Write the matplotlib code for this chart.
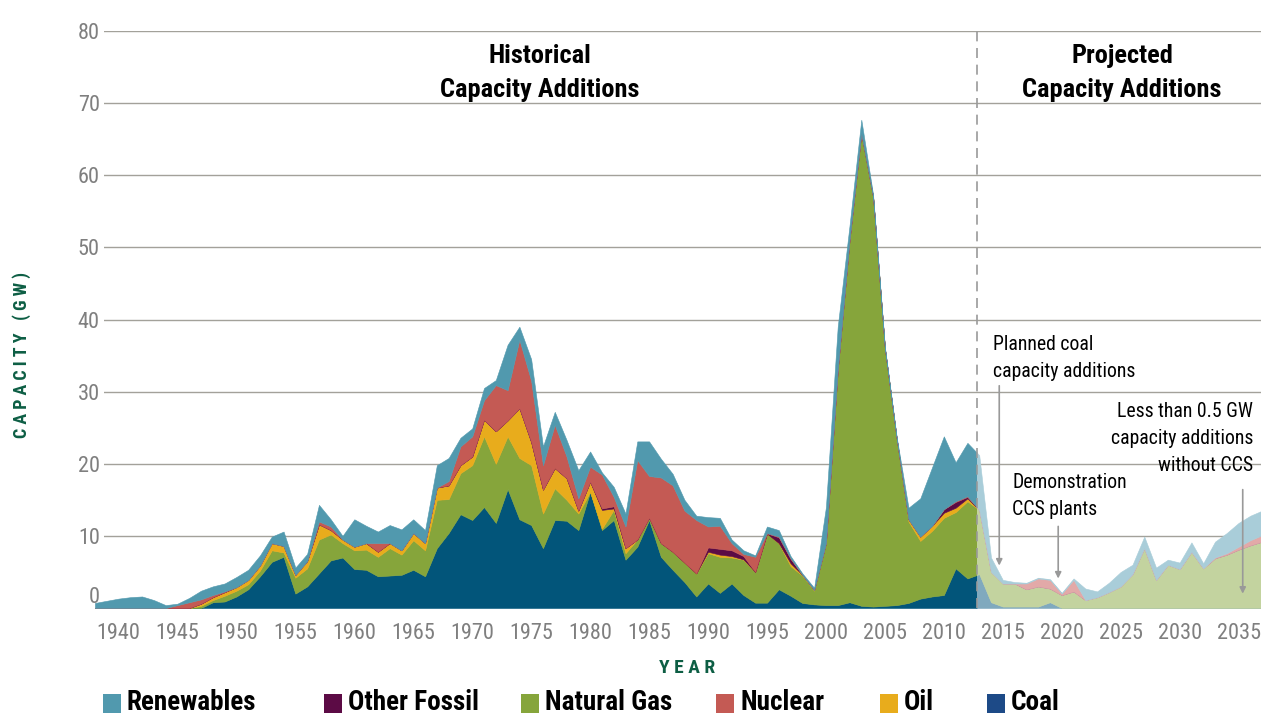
import numpy as np
import matplotlib.pyplot as plt
from matplotlib.patches import Rectangle

plt.rcParams['font.family'] = ['Liberation Sans Narrow', 'Roboto Condensed', 'DejaVu Sans']

# capacity additions by fuel (GW), 1938-2037
years = np.arange(1938, 2038)

coal = [0, 0, 0, 0, 0, 0, 0, 0, 0, 0,
        0.8, 0.9, 1.6, 2.6, 4.4, 6.4, 7.1, 2.0, 3.0, 4.8,
        6.6, 7.0, 5.4, 5.3, 4.4, 4.5, 4.6, 5.3, 4.4, 8.3,
        10.4, 13.0, 12.2, 14.0, 11.8, 16.5, 12.3, 11.5, 8.3, 12.2,
        12.1, 10.8, 16.1, 10.8, 12.2, 6.7, 8.5, 12.2, 7.1, 5.3,
        3.6, 1.6, 3.4, 2.1, 3.4, 1.8, 0.74, 0.74, 2.6, 1.7,
        0.7, 0.5, 0.4, 0.4, 0.8, 0.3, 0.2, 0.3, 0.4, 0.7,
        1.3, 1.6, 1.8, 5.5, 4.1, 4.7, 0.8, 0.2, 0.2, 0.2,
        0.2, 0.8, 0, 0, 0, 0, 0, 0, 0, 0,
        0, 0, 0, 0, 0, 0, 0, 0, 0, 0]

gas = [0, 0, 0, 0, 0, 0, 0, 0, 0, 0.3,
       0.3, 0.8, 0.8, 0.7, 0.8, 1.6, 0.6, 2.2, 2.5, 4.7,
       3.6, 2.0, 2.6, 2.8, 2.7, 3.8, 2.8, 4.1, 3.6, 6.7,
       4.7, 5.7, 7.6, 9.8, 8.2, 7.3, 8.5, 8.3, 4.8, 4.4,
       2.9, 2.3, 0, 0.2, 1.4, 0.9, 1.0, 0.3, 1.9, 2.5,
       2.7, 3.2, 4.2, 5.0, 3.6, 4.9, 4.26, 9.56, 6.4, 4.1,
       3.8, 1.9, 8.6, 32.6, 50.2, 65.5, 56.8, 35.7, 23.1, 11.3,
       8.0, 9.1, 10.7, 7.8, 10.7, 8.9, 4.2, 3.2, 3.2, 2.4,
       2.8, 1.9, 1.8, 2.3, 1.1, 1.5, 2.2, 3.0, 4.7, 8.3,
       3.9, 6.0, 5.4, 7.8, 5.5, 6.9, 7.4, 8.1, 8.7, 9.2]

oil = [0, 0, 0, 0, 0, 0, 0, 0, 0, 0.3,
       0.4, 0.5, 0.5, 0.6, 0.7, 1.0, 0.9, 0.4, 1.0, 2.1,
       0.6, 0.5, 0.5, 0.9, 0.7, 0.7, 0.6, 1.0, 1.0, 1.7,
       1.9, 1.1, 1.2, 2.3, 4.5, 2.2, 6.9, 3.2, 3.3, 2.8,
       3.0, 0.4, 1.4, 2.6, 0.2, 0.7, 0, 0, 0, 0,
       0, 0, 0.2, 0.3, 0.2, 0.05, 0, 0, 0, 0.4,
       0.1, 0.1, 0, 0, 0, 0, 0, 0, 0, 0.3,
       0.6, 0.7, 0.7, 0.6, 0.4, 0, 0, 0, 0, 0,
       0, 0, 0, 0, 0, 0, 0, 0, 0, 0,
       0, 0, 0, 0, 0, 0, 0, 0, 0, 0]

other_fossil = [0] * 43 + [0.2, 0.3] + [0] * 7 + \
               [0.6, 0.8, 0.8, 0.45, 0, 0.05, 0.8, 0.6] + [0] * 12 + \
               [0.5, 0.8, 0.2] + [0] * 25

nuclear = [0, 0, 0, 0, 0, 0, 0, 0.4, 0.8, 0.6,
           0.3, 0.1, 0, 0, 0, 0, 0, 0, 0, 0.4,
           0.5, 0, 0, 0, 1.2, 0, 0, 0, 0, 0,
           0.6, 2.6, 2.8, 2.7, 6.4, 4.2, 9.5, 8.5, 3.4, 6.0,
           3.0, 1.7, 2.1, 4.7, 1.3, 3.0, 11.0, 5.8, 9.1, 9.2,
           7.2, 7.4, 2.9, 3.2, 1.0, 0.3, 2.1, 0.05, 0.1, 0.1,
           0, 0, 0, 0, 0, 0, 0, 0, 0, 0,
           0, 0, 0, 0.1, 0.1, 0, 0, 0, 0, 0.8,
           1.1, 1.2, 0.2, 1.6, 0, 0, 0, 0, 0, 0,
           0, 0, 0, 0, 0, 0.1, 0.2, 0.4, 0.7, 0.9]

renewables = [0.7, 1.0, 1.3, 1.5, 1.6, 1.1, 0.4, 0.2, 0.6, 1.2,
              1.2, 1.1, 1.4, 1.4, 1.4, 0.9, 2.0, 1.0, 1.0, 2.3,
              1.0, 0.5, 3.8, 2.4, 1.6, 2.5, 2.9, 1.9, 1.8, 3.1,
              3.2, 1.2, 1.1, 1.7, 0.7, 6.3, 1.8, 3.0, 2.6, 1.8,
              2.3, 3.9, 2.1, 0.3, 1.4, 1.8, 2.6, 4.8, 2.6, 1.6,
              1.5, 0.6, 1.3, 1.1, 0.5, 0.5, 0.2, 0.9, 0.9, 0.3,
              0.2, 0.3, 5.0, 6.0, 2.0, 1.9, 0.3, 0.2, 0.2, 1.6,
              5.3, 8.1, 10.1, 5.4, 7.4, 7.6, 2.0, 0.5, 0.2, 0.1,
              0.1, 0.1, 0.1, 0.2, 1.6, 0.8, 1.3, 2.0, 1.3, 1.6,
              1.7, 0.7, 0.9, 1.3, 0.7, 2.2, 2.8, 3.3, 3.4, 3.4]

series = [coal, gas, oil, other_fossil, nuclear, renewables]
dark_colors = ['#02557a', '#86a53b', '#e8ac1c', '#5c0b45', '#c45a54', '#5199ae']
light_colors = ['#80a9be', '#c3d39f', '#f2d58e', '#ad85a2', '#e2a9a8', '#a9cdd9']
legend_names = ['Renewables', 'Other Fossil', 'Natural Gas', 'Nuclear', 'Oil', 'Coal']
legend_colors = ['#5199ae', '#5c0b45', '#86a53b', '#c45a54', '#e8ac1c', '#1d4a87']
legend_x = [103, 324, 521, 716, 880, 987]   # swatch left edge, px
split_year = 2012.8

W, H = 1261, 713
fig = plt.figure(figsize=(W / 100, H / 100), dpi=100)
ax = fig.add_axes([104 / W, 1 - 608 / H, 1 - 104 / W, 577 / H])

for colors, x0, x1 in [(dark_colors, 1930, split_year), (light_colors, split_year, 2045)]:
    polys = ax.stackplot(years, *series, colors=colors, zorder=2)
    clip = Rectangle((x0, -10), x1 - x0, 120, transform=ax.transData)
    for p, c in zip(polys, colors):
        p.set_edgecolor(c)
        p.set_linewidth(0.4)
        p.set_clip_path(clip)

ax.set_xlim(1938.77, 2036.9)
ax.set_ylim(0, 80)
ax.set_yticks(range(0, 81, 10))
ax.set_xticks(range(1940, 2036, 5))
ax.yaxis.grid(True, color='#a3a19a', lw=1)
ax.set_axisbelow(True)
for s in ax.spines.values():
    s.set_visible(False)
ax.tick_params(axis='both', length=0, labelcolor='#7f7f7f', labelsize=16)
ax.tick_params(axis='x', pad=11)
ax.tick_params(axis='y', pad=3)
ax.get_yticklabels()[0].set_va('bottom')

ax.axvline(split_year, color='#9a9a9a', lw=1.2, ls=(0, (6, 4)), zorder=5)

fig.text(540 / W, 1 - 73 / H, 'Historical\nCapacity Additions', ha='center', va='center',
         fontsize=19, fontweight='bold', linespacing=1.55)
fig.text(1122 / W, 1 - 73 / H, 'Projected\nCapacity Additions', ha='center', va='center',
         fontsize=19, fontweight='bold', linespacing=1.55)

arrow = dict(arrowstyle='-|>', color='#999999', lw=1.2, mutation_scale=9)
ax.annotate('', xy=(2014.7, 5.5), xytext=(2014.7, 31.2), arrowprops=arrow, zorder=6)
ax.annotate('', xy=(2019.7, 3.7), xytext=(2019.7, 11.7), arrowprops=arrow, zorder=6)
ax.annotate('', xy=(2035.35, 1.6), xytext=(2035.35, 16.8), arrowprops=arrow, zorder=6)
ax.text(2014.2, 37.9, 'Planned coal\ncapacity additions', ha='left', va='top', fontsize=14.2, linespacing=1.55)
ax.text(2015.8, 18.7, 'Demonstration\nCCS plants', ha='left', va='top', fontsize=14.2, linespacing=1.55)
ax.text(2036.25, 28.6, 'Less than 0.5 GW\ncapacity additions\nwithout CCS', ha='right', va='top',
        fontsize=14.2, linespacing=1.55, multialignment='right')

fig.text(22 / W, 1 - 355 / H, 'C A P A C I T Y   ( G W )', rotation=90, ha='center', va='center',
         fontsize=13, fontweight='bold', color='#0d5e44')
fig.text(687 / W, 1 - 668 / H, 'Y E A R', ha='center', va='center',
         fontsize=14, fontweight='bold', color='#0d5e44')

for name, col, x in zip(legend_names, legend_colors, legend_x):
    fig.patches.append(Rectangle((x / W, 1 - 713 / H), 18 / W, 19 / H, transform=fig.transFigure,
                                 facecolor=col, edgecolor='none'))
    fig.text((x + 24) / W, 1 - 702 / H, name, ha='left', va='center', fontsize=19.5, fontweight='bold')

fig.savefig('out.png', dpi=100)
